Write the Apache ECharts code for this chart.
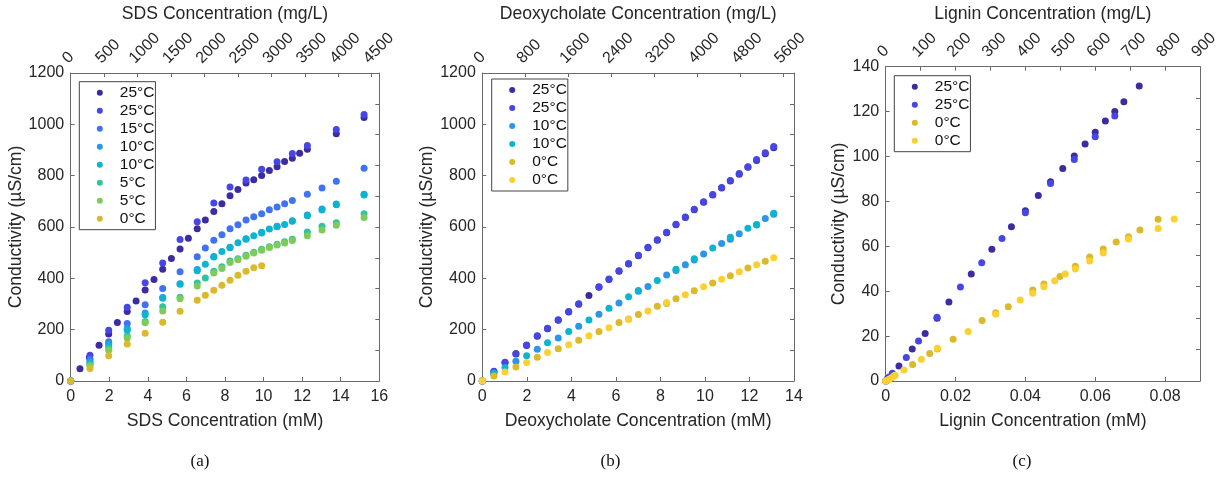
<!DOCTYPE html>
<html>
<head>
<meta charset="utf-8">
<script src="https://cdn.jsdelivr.net/npm/echarts@6/dist/echarts.min.js"></script>
<style>html,body{margin:0;padding:0;background:#fff;}#chart{width:1225px;height:477px;}</style>
</head>
<body>
<div id="chart"></div>
<script>
// ---------- Panel (a): SDS ----------
const sdsX_25a = [0, 0.48, 0.97, 1.47, 1.97, 2.42, 2.93, 3.39, 3.86, 4.32, 4.77, 5.22, 5.67, 6.10, 6.56, 6.98, 7.42, 7.84, 8.26, 8.67, 9.09, 9.49, 9.90, 10.30, 10.70, 11.09, 11.49, 11.87, 12.27, 13.77, 15.21];
const sdsY_25a = [0, 48, 92, 139, 183, 228, 271, 312, 355, 395, 435, 477, 514, 556, 593, 627, 660, 691, 722, 746, 771, 784, 801, 820, 835, 855, 868, 887, 903, 963, 1027];
const sdsX_25b = [0, 1.0, 1.97, 2.93, 3.86, 4.77, 5.67, 6.56, 7.42, 8.26, 9.09, 9.90, 10.70, 11.49, 12.27, 13.77, 15.21];
const sdsY_25b = [0, 100, 198, 287, 383, 460, 551, 620, 694, 756, 783, 825, 854, 886, 918, 980, 1038];
const sdsX_15 = [0, 1.0, 1.97, 2.93, 3.86, 4.77, 5.67, 6.56, 6.98, 7.42, 7.84, 8.26, 8.67, 9.09, 9.49, 9.90, 10.30, 10.70, 11.09, 11.49, 12.27, 13.03, 13.77, 15.21];
const sdsY_15 = [0, 85, 153, 224, 297, 360, 426, 484, 518, 548, 570, 593, 609, 627, 640, 652, 667, 678, 691, 703, 728, 752, 778, 829];
const sdsX_10a = [0, 1.0, 1.97, 2.93, 3.86, 4.77, 5.67, 6.56, 7.42, 8.26, 9.09, 9.90, 10.70, 11.49, 12.27, 13.03, 13.77, 15.21];
const sdsY_10a = [0, 75, 146, 205, 265, 325, 379, 434, 485, 521, 554, 580, 603, 624, 647, 670, 690, 728];
const sdsX_10b = [0, 1.0, 1.97, 2.93, 3.86, 4.77, 5.67, 6.56, 6.98, 7.42, 7.84, 8.26, 8.67, 9.09, 9.49, 9.90, 10.30, 10.70, 11.09, 11.49, 12.27, 13.03, 13.77, 15.21];
const sdsY_10b = [0, 70, 137, 198, 258, 322, 377, 430, 455, 483, 505, 519, 539, 552, 566, 577, 592, 601, 610, 622, 644, 666, 687, 725];
const sdsX_5a = [0, 1.0, 1.97, 2.93, 3.86, 4.77, 5.67, 6.56, 6.98, 7.42, 7.84, 8.26, 8.67, 9.09, 9.49, 9.90, 10.30, 10.70, 11.09, 11.49, 12.27, 13.03, 13.77, 15.21];
const sdsY_5a = [0, 63, 128, 175, 232, 289, 326, 382, 401, 428, 445, 468, 476, 490, 502, 513, 523, 533, 543, 552, 581, 603, 617, 652];
const sdsX_5b = [0, 1.0, 1.97, 2.93, 3.86, 4.77, 5.67, 6.56, 7.42, 7.84, 8.26, 8.67, 9.09, 9.49, 9.90, 10.30, 10.70, 11.09, 11.49, 12.27, 13.03, 13.77, 15.21];
const sdsY_5b = [0, 58, 120, 168, 227, 273, 320, 370, 421, 438, 462, 472, 486, 499, 509, 520, 530, 538, 547, 566, 588, 607, 637];
const sdsX_0 = [0, 1.0, 1.97, 2.93, 3.86, 4.77, 5.67, 6.56, 6.98, 7.42, 7.84, 8.26, 8.67, 9.09, 9.49, 9.90];
const sdsY_0 = [0, 49, 98, 144, 186, 229, 272, 315, 334, 354, 373, 393, 412, 428, 441, 449];

// ---------- Panel (b): Deoxycholate ----------
const doxX_25a = [0, 0.52, 1.02, 1.51, 1.99, 2.47, 2.93, 3.41, 3.88, 4.33, 4.79, 5.24, 5.69, 6.14, 6.57, 7.01, 7.44, 7.86, 8.28, 8.70, 9.12, 9.52, 9.94, 10.35, 10.75, 11.14, 11.54, 11.93, 12.32, 12.71, 13.09];
const doxY_25a = [0, 36, 71, 105, 138, 174, 204, 237, 269, 299, 333, 365, 395, 428, 456, 488, 519, 548, 578, 609, 637, 667, 696, 725, 752, 779, 806, 833, 859, 885, 909];
const doxX_25b = [0, 0.52, 1.02, 1.51, 1.99, 2.47, 2.93, 3.41, 3.88, 4.33, 5.24, 5.69, 6.14, 6.57, 7.01, 7.44, 7.86, 8.28, 8.70, 9.12, 9.52, 9.94, 10.35, 10.75, 11.14, 11.54, 11.93, 12.32, 12.71, 13.09];
const doxY_25b = [0, 38, 73, 107, 140, 176, 206, 239, 271, 301, 367, 397, 430, 458, 490, 521, 550, 580, 611, 639, 669, 698, 727, 754, 781, 808, 835, 863, 889, 914];
const doxX_10a = [0, 0.52, 1.51, 2.47, 3.41, 4.33, 5.24, 6.14, 7.01, 7.44, 8.28, 8.70, 9.12, 9.52, 9.94, 10.75, 11.14, 11.54, 12.32, 12.71, 13.09];
const doxY_10a = [0, 31, 77, 124, 168, 213, 260, 304, 350, 368, 413, 431, 453, 471, 495, 536, 552, 574, 608, 633, 650];
const doxX_10b = [0, 0.52, 1.02, 1.99, 2.93, 3.88, 4.79, 5.69, 6.57, 7.01, 7.86, 8.70, 9.52, 10.35, 11.14, 11.93, 12.32, 13.09];
const doxY_10b = [0, 28, 53, 98, 149, 193, 238, 283, 328, 353, 392, 435, 476, 518, 560, 595, 610, 654];
const doxX_0a = [0, 0.52, 1.51, 2.47, 3.41, 4.33, 5.24, 6.14, 6.57, 7.01, 7.86, 8.28, 8.70, 9.52, 10.35, 11.14, 11.93, 12.71];
const doxY_0a = [0, 19, 55, 93, 126, 159, 193, 228, 242, 259, 291, 302, 320, 352, 382, 410, 440, 467];
const doxX_0b = [0, 1.02, 1.99, 2.93, 3.88, 4.79, 5.69, 6.57, 7.44, 8.28, 9.12, 9.94, 10.75, 11.54, 12.32, 13.09];
const doxY_0b = [0, 35, 72, 111, 141, 176, 207, 240, 273, 306, 336, 367, 396, 426, 453, 480];

// ---------- Panel (c): Lignin ----------
const ligX_25a = [0, 0.0005, 0.0038, 0.0076, 0.0113, 0.0147, 0.0181, 0.0245, 0.0304, 0.0360, 0.0400, 0.0437, 0.0472, 0.0507, 0.0540, 0.0571, 0.0600, 0.0629, 0.0656, 0.0682, 0.0726];
const ligY_25a = [0, 1.0, 6.7, 14.3, 21.2, 28.0, 35.2, 47.7, 58.7, 68.7, 75.8, 82.6, 88.8, 94.7, 100.2, 105.6, 110.8, 115.8, 120.0, 124.4, 131.4];
const ligX_25b = [0, 0.0010, 0.0019, 0.0059, 0.0094, 0.0147, 0.0214, 0.0275, 0.0333, 0.0400, 0.0472, 0.0540, 0.0600, 0.0656];
const ligY_25b = [0, 1.8, 3.4, 10.5, 17.8, 28.4, 41.9, 52.7, 63.5, 75.0, 88.0, 98.7, 108.8, 118.0];
const ligX_0a = [0, 0.0005, 0.0015, 0.0025, 0.0077, 0.0126, 0.0148, 0.0193, 0.0276, 0.0315, 0.0351, 0.0421, 0.0453, 0.0499, 0.0543, 0.0584, 0.0623, 0.0660, 0.0695, 0.0728, 0.0780];
const ligY_0a = [0, 0.5, 1.3, 2.4, 7.4, 12.2, 14.2, 18.6, 26.9, 30.4, 33.1, 40.5, 43.2, 46.6, 51.1, 55.2, 58.8, 61.9, 64.3, 67.3, 72.0];
const ligX_0b = [0, 0.0010, 0.0020, 0.0027, 0.0052, 0.0102, 0.0148, 0.0236, 0.0315, 0.0385, 0.0421, 0.0453, 0.0484, 0.0514, 0.0543, 0.0584, 0.0623, 0.0695, 0.0780, 0.0826];
const ligY_0b = [0, 0.8, 1.8, 2.6, 4.9, 9.7, 14.6, 22.1, 29.7, 36.1, 39.1, 42.0, 44.7, 47.7, 49.9, 53.5, 57.0, 63.3, 67.9, 72.2];

// Molar masses (g/mol) linking the mM axis to the mg/L axis
const MW_SDS = 288.38, MW_DOX = 414.55, MW_LIG = 10000;

const legendA = ['25°C', '25°C', '15°C', '10°C', '10°C', '5°C', '5°C', '0°C'];
const legendB = ['25°C', '25°C', '10°C', '10°C', '0°C', '0°C'];
const legendC = ['25°C', '25°C', '0°C', '0°C'];

const C = {
  c1: '#3d2ba0', c2: '#4646e6', c3: '#3f72f5', c4: '#2c95e8', c5: '#0bb5d2',
  c6: '#2ec4a0', c7: '#7ecb5a', c8: '#dbb92a', c9: '#fbd030'
};

const FONT = 'Liberation Sans';
const TXT = '#262626';
const AX = '#6a6a6a';

function pairs(xs, ys) { return xs.map((x, i) => [x, ys[i]]); }
function tickFmt(step) {
  return function (v) {
    const k = v / step;
    if (Math.abs(k - Math.round(k)) > 1e-6) return '';
    return String(+(Math.round(k) * step).toFixed(6));
  };
}

const panels = [
  { grid: { left: 70.7, top: 72.3, width: 308.6, height: 308.7 },
    xMax: 16, xStep: 2, topMax: 16 * MW_SDS, topStep: 500, yMax: 1200, yStep: 200,
    bottomName: 'SDS Concentration (mM)', topName: 'SDS Concentration (mg/L)',
    yGap: 45, topGap: 46,
    legend: { left: 79.3, top: 81.7 }, labels: legendA,
    series: [[sdsX_25a, sdsY_25a, C.c1], [sdsX_25b, sdsY_25b, C.c2], [sdsX_15, sdsY_15, C.c3], [sdsX_10a, sdsY_10a, C.c4],
             [sdsX_10b, sdsY_10b, C.c5], [sdsX_5a, sdsY_5a, C.c6], [sdsX_5b, sdsY_5b, C.c7], [sdsX_0, sdsY_0, C.c8]],
    caption: { text: '(a)', x: 200 } },
  { grid: { left: 482.3, top: 70, width: 311.7, height: 311 },
    xMax: 14, xStep: 2, topMax: 14 * MW_DOX, topStep: 800, yMax: 1200, yStep: 200,
    bottomName: 'Deoxycholate Concentration (mM)', topName: 'Deoxycholate Concentration (mg/L)',
    yGap: 46, topGap: 49,
    legend: { left: 491.7, top: 79 }, labels: legendB,
    series: [[doxX_25a, doxY_25a, C.c1], [doxX_25b, doxY_25b, C.c2], [doxX_10a, doxY_10a, C.c4],
             [doxX_10b, doxY_10b, C.c5], [doxX_0a, doxY_0a, C.c8], [doxX_0b, doxY_0b, C.c9]],
    caption: { text: '(b)', x: 610.5 } },
  { grid: { left: 885.7, top: 66.7, width: 314.3, height: 314.3 },
    xMax: 0.09, xStep: 0.02, topMax: 0.09 * MW_LIG, topStep: 100, yMax: 140, yStep: 20,
    bottomName: 'Lignin Concentration (mM)', topName: 'Lignin Concentration (mg/L)',
    yGap: 38, topGap: 41,
    legend: { left: 894.3, top: 75.7 }, labels: legendC,
    series: [[ligX_25a, ligY_25a, C.c1], [ligX_25b, ligY_25b, C.c2], [ligX_0a, ligY_0a, C.c8], [ligX_0b, ligY_0b, C.c9]],
    caption: { text: '(c)', x: 1022 } }
];

const option = { animation: false, backgroundColor: '#fff', grid: [], xAxis: [], yAxis: [], series: [], legend: [], graphic: [] };
const nameMap = {};

const axisLine = { show: true, onZero: false, lineStyle: { color: AX, width: 1 } };
const labelStyle = { color: TXT, fontSize: 16, fontFamily: FONT };
const nameStyle = { color: TXT, fontSize: 17.6, fontFamily: FONT };

panels.forEach((p, pi) => {
  option.grid.push(Object.assign({ containLabel: false }, p.grid));
  option.xAxis.push({ type: 'value', gridIndex: pi, position: 'bottom', min: 0, max: p.xMax, interval: p.xStep,
    axisLine, splitLine: { show: false }, axisTick: { inside: true, length: 4, lineStyle: { color: AX } },
    axisLabel: Object.assign({ margin: 8, formatter: tickFmt(p.xStep) }, labelStyle),
    name: p.bottomName, nameLocation: 'middle', nameGap: 31, nameTextStyle: nameStyle });
  option.xAxis.push({ type: 'value', gridIndex: pi, position: 'top', min: 0, max: p.topMax, interval: p.topStep,
    axisLine, splitLine: { show: false }, axisTick: { inside: true, length: 4, lineStyle: { color: AX } },
    axisLabel: Object.assign({ margin: 6.5, rotate: -45, align: 'left', verticalAlign: 'bottom', formatter: tickFmt(p.topStep) }, labelStyle),
    name: p.topName, nameLocation: 'middle', nameGap: p.topGap, nameTextStyle: nameStyle });
  option.yAxis.push({ type: 'value', gridIndex: pi, position: 'left', min: 0, max: p.yMax, interval: p.yStep,
    axisLine, splitLine: { show: false }, axisTick: { inside: true, length: 4, lineStyle: { color: AX } },
    axisLabel: Object.assign({ margin: 6.5, formatter: tickFmt(p.yStep) }, labelStyle),
    name: 'Conductivity (µS/cm)', nameLocation: 'middle', nameGap: p.yGap, nameTextStyle: nameStyle });
  option.yAxis.push({ type: 'value', gridIndex: pi, position: 'right', min: 0, max: 1, interval: 0.1,
    axisLine, splitLine: { show: false }, axisTick: { inside: true, length: 4, lineStyle: { color: AX } },
    axisLabel: { show: false } });

  const names = [];
  p.series.forEach((s, si) => {
    const nm = 'p' + pi + 's' + si;
    nameMap[nm] = p.labels[si];
    names.push(nm);
    option.series.push({ type: 'scatter', name: nm, xAxisIndex: 2 * pi, yAxisIndex: 2 * pi,
      data: pairs(s[0], s[1]), symbol: 'circle', symbolSize: 7,
      itemStyle: { color: s[2], opacity: 1 }, emphasis: { disabled: true } });
  });
  option.legend.push({ show: true, orient: 'vertical', left: p.legend.left, top: p.legend.top, data: names,
    icon: 'circle', itemWidth: 30, itemHeight: 6, itemGap: 0, selectedMode: false,
    padding: [2, 1, 2, 17.5], borderColor: '#444', borderWidth: 1, backgroundColor: '#fff', borderRadius: 0,
    formatter: n => nameMap[n],
    textStyle: { color: '#111', fontSize: 15.5, fontFamily: FONT, lineHeight: 18 } });
  option.graphic.push({ type: 'text', x: p.caption.x, y: 461.7,
    style: { text: p.caption.text, x: 0, y: 0, fontSize: 17, fontFamily: 'Liberation Serif', fill: '#111',
      align: 'center', verticalAlign: 'middle', textAlign: 'center', textVerticalAlign: 'middle' } });
});

const chart = echarts.init(document.getElementById('chart'), null, { renderer: 'canvas' });
chart.setOption(option);
</script>
</body>
</html>
